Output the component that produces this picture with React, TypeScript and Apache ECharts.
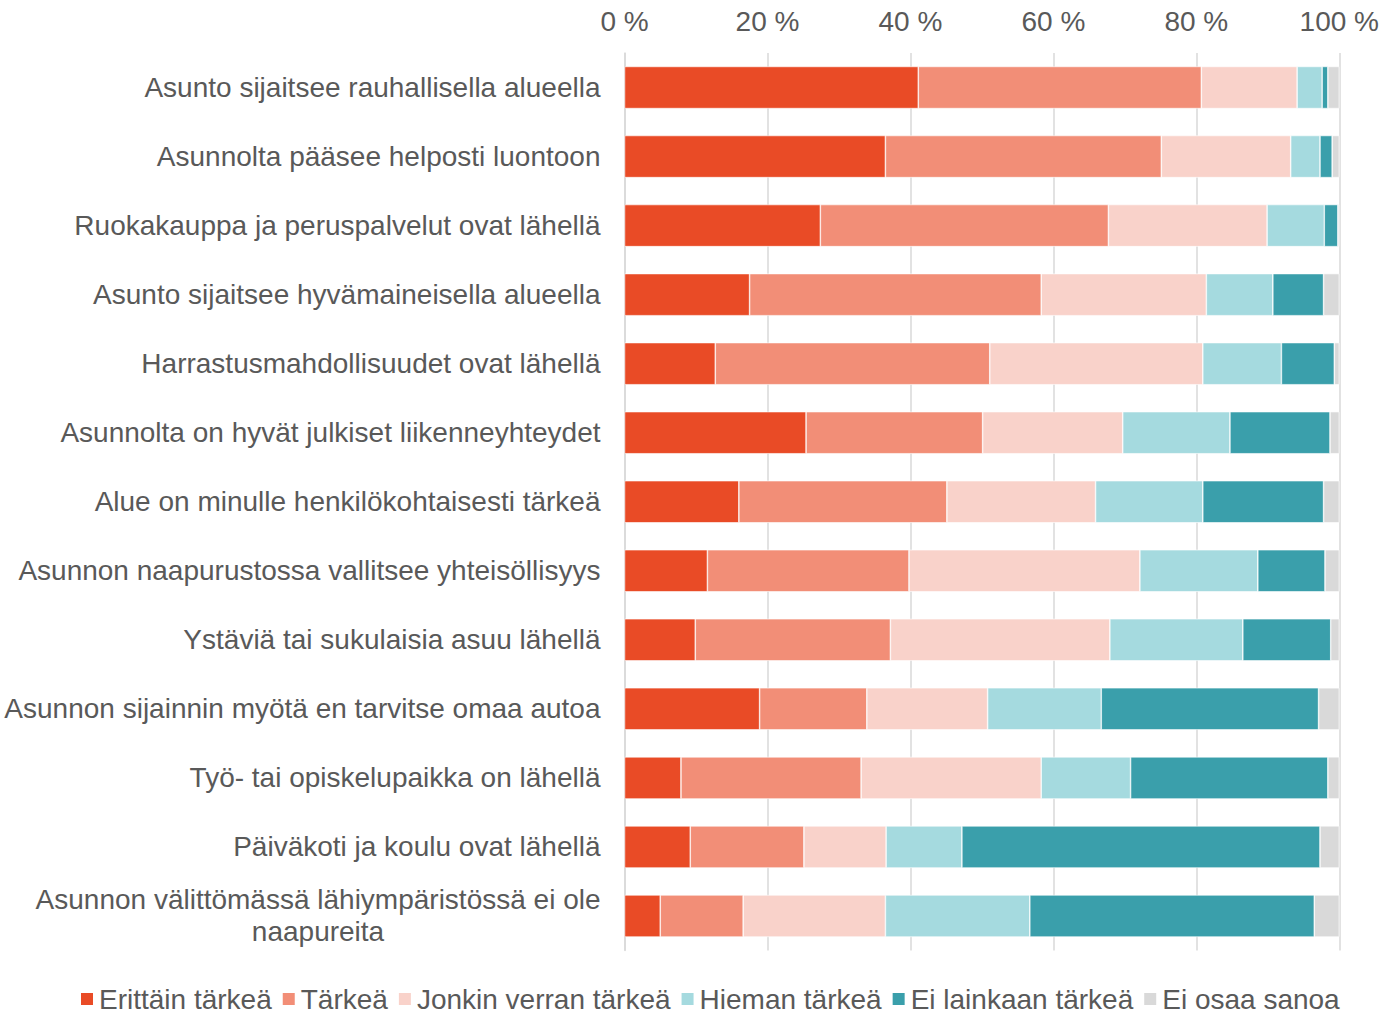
import React, { useEffect, useRef } from "react";
import * as echarts from "echarts";

const categories = [
  "Asunto sijaitsee rauhallisella alueella",
  "Asunnolta pääsee helposti luontoon",
  "Ruokakauppa ja peruspalvelut ovat lähellä",
  "Asunto sijaitsee hyvämaineisella alueella",
  "Harrastusmahdollisuudet ovat lähellä",
  "Asunnolta on hyvät julkiset liikenneyhteydet",
  "Alue on minulle henkilökohtaisesti tärkeä",
  "Asunnon naapurustossa vallitsee yhteisöllisyys",
  "Ystäviä tai sukulaisia asuu lähellä",
  "Asunnon sijainnin myötä en tarvitse omaa autoa",
  "Työ- tai opiskelupaikka on lähellä",
  "Päiväkoti ja koulu ovat lähellä",
  "Asunnon välittömässä lähiympäristössä ei ole\nnaapureita",
];

const seriesNames = [
  "Erittäin tärkeä",
  "Tärkeä",
  "Jonkin verran tärkeä",
  "Hieman tärkeä",
  "Ei lainkaan tärkeä",
  "Ei osaa sanoa",
];

const erittainTarkea = [41.1, 36.5, 27.4, 17.5, 12.7, 25.4, 16.0, 11.6, 9.9, 18.9, 7.9, 9.2, 5.0];
const tarkea = [39.6, 38.6, 40.3, 40.8, 38.4, 24.7, 29.1, 28.2, 27.3, 15.0, 25.2, 15.9, 11.6];
const jonkinVerran = [13.4, 18.1, 22.2, 23.1, 29.8, 19.6, 20.8, 32.3, 30.7, 16.9, 25.2, 11.5, 19.9];
const hieman = [3.5, 4.1, 8.0, 9.3, 11.0, 15.0, 15.0, 16.5, 18.6, 15.9, 12.5, 10.6, 20.2];
const eiLainkaan = [0.8, 1.7, 1.9, 7.1, 7.4, 14.0, 16.9, 9.4, 12.3, 30.4, 27.6, 50.1, 39.8];
const eiOsaa = [1.6, 1.0, 0.2, 2.2, 0.7, 1.3, 2.2, 2.0, 1.2, 2.9, 1.6, 2.7, 3.5];

const xTicks = [0, 20, 40, 60, 80, 100];

const colors = ["#E94B26", "#F28E77", "#F9D2CA", "#A5DADF", "#3A9FAB", "#D9D9D9"];

const seriesData = [erittainTarkea, tarkea, jonkinVerran, hieman, eiLainkaan, eiOsaa];

export default function App() {
  const ref = useRef<HTMLDivElement>(null);
  useEffect(() => {
    if (!ref.current) return;
    const chart = echarts.init(ref.current, null, { renderer: "svg" });
    const font = "'Liberation Sans', Arial, sans-serif";
    chart.setOption({
      animation: false,
      backgroundColor: "#ffffff",
      textStyle: { fontFamily: font },
      grid: { left: 624.5, right: 42, top: 53, bottom: 64.5, containLabel: false },
      legend: {
        top: 984,
        left: 79,
        itemWidth: 14,
        itemHeight: 14,
        itemGap: 9,
        icon: "rect",
        padding: 0,
        textStyle: { fontSize: 28, color: "#595959", fontFamily: font, lineHeight: 30 },
        data: seriesNames,
      },
      xAxis: {
        type: "value",
        position: "top",
        min: 0,
        max: 100,
        interval: 20,
        axisLine: { show: false },
        axisTick: { show: false },
        splitLine: { show: true, lineStyle: { color: "#D9D9D9", width: 1.5 } },
        axisLabel: {
          fontSize: 28,
          color: "#595959",
          margin: 18,
          formatter: (v: number) => (xTicks.includes(v) ? `${v} %` : ""),
        },
      },
      yAxis: {
        type: "category",
        inverse: true,
        data: categories,
        axisLine: { show: true, lineStyle: { color: "#D9D9D9", width: 1.5 } },
        axisTick: { show: false },
        axisLabel: {
          fontSize: 28,
          color: "#595959",
          margin: 24,
          lineHeight: 32,
          formatter: (v: string) => {
            if (v.includes("\n")) {
              return v
                .split("\n")
                .map((s) => `{c|${s}}`)
                .join("\n");
            }
            return v;
          },
          rich: {
            c: { align: "center", fontSize: 28, color: "#595959", lineHeight: 32, fontFamily: font },
          },
        },
      },
      series: seriesNames.map((name, i) => ({
        name,
        type: "bar",
        stack: "total",
        barCategoryGap: "39%",
        data: seriesData[i],
        itemStyle: { color: colors[i], borderColor: "#ffffff", borderWidth: 0.6 },
        emphasis: { disabled: true },
      })),
    });
    return () => chart.dispose();
  }, []);
  return (
    <div
      ref={ref}
      style={{ position: "absolute", left: 0, top: 0, width: 1382, height: 1015 }}
    />
  );
}
